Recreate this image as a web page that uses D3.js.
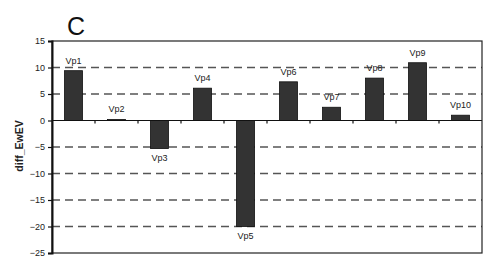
<!DOCTYPE html>
<html>
<head>
<meta charset="utf-8">
<script src="https://cdn.jsdelivr.net/npm/d3@7"></script>
<style>
  body { margin: 0; background: #fff; }
  svg { display: block; font-family: Arial, "Liberation Sans", sans-serif; }
</style>
</head>
<body>
<svg id="chart"></svg>
<script>
// data
const categories = ['Vp1', 'Vp2', 'Vp3', 'Vp4', 'Vp5', 'Vp6', 'Vp7', 'Vp8', 'Vp9', 'Vp10'];
const values = [9.4, 0.2, -5.3, 6.1, -20, 7.3, 2.5, 8.0, 10.9, 1.0];
const yTicks = [15, 10, 5, 0, -5, -10, -15, -20, -25];
const gridValues = [10, 5, -5, -10, -15, -20];

const W = 500, H = 272;
const m = { left: 52, right: 18, top: 41, bottom: 19 };

const svg = d3.select('#chart').attr('width', W).attr('height', H);

const x = d3.scaleBand()
  .domain(categories)
  .range([m.left, W - m.right])
  .paddingInner(0.58)
  .paddingOuter(0.29);

const y = d3.scaleLinear()
  .domain([-25, 15])
  .range([H - m.bottom, m.top]);

// dashed grid
svg.append('g')
  .selectAll('line')
  .data(gridValues)
  .join('line')
  .attr('x1', m.left).attr('x2', W - m.right)
  .attr('y1', d => y(d)).attr('y2', d => y(d))
  .attr('stroke', '#555')
  .attr('stroke-width', 1.3)
  .attr('stroke-dasharray', '8,5');

// bars
svg.append('g')
  .selectAll('rect')
  .data(values)
  .join('rect')
  .attr('x', (d, i) => x(categories[i]))
  .attr('width', x.bandwidth())
  .attr('y', d => y(Math.max(0, d)))
  .attr('height', d => Math.abs(y(d) - y(0)))
  .attr('fill', '#333')
  .attr('stroke', '#111')
  .attr('stroke-width', 0.8);

// bar labels
svg.append('g')
  .selectAll('text')
  .data(values)
  .join('text')
  .attr('x', (d, i) => x(categories[i]) + x.bandwidth() / 2)
  .attr('y', d => d >= 0 ? y(d) - 7 : y(d) + 12)
  .attr('text-anchor', 'middle')
  .attr('font-size', 9)
  .attr('fill', '#222')
  .text((d, i) => categories[i]);

// zero line + category ticks
svg.append('line')
  .attr('x1', m.left).attr('x2', W - m.right)
  .attr('y1', y(0)).attr('y2', y(0))
  .attr('stroke', '#111').attr('stroke-width', 1.2);

const step = (W - m.right - m.left) / categories.length;
svg.append('g')
  .selectAll('line')
  .data(d3.range(1, categories.length))
  .join('line')
  .attr('x1', d => m.left + d * step).attr('x2', d => m.left + d * step)
  .attr('y1', y(0)).attr('y2', y(0) + 3)
  .attr('stroke', '#111').attr('stroke-width', 1.2);

// frame
svg.append('rect')
  .attr('x', m.left).attr('y', m.top)
  .attr('width', W - m.right - m.left)
  .attr('height', H - m.bottom - m.top)
  .attr('fill', 'none')
  .attr('stroke', '#222')
  .attr('stroke-width', 1.2);

// y axis
const yAxis = svg.append('g')
  .attr('transform', `translate(${m.left},0)`)
  .call(d3.axisLeft(y).tickValues(yTicks).tickSize(4).tickPadding(3));
yAxis.select('.domain').attr('stroke', '#111').attr('stroke-width', 2);
yAxis.selectAll('.tick line').attr('stroke', '#111').attr('stroke-width', 1.2);
yAxis.selectAll('.tick text')
  .attr('font-size', 9)
  .attr('font-family', 'Arial, "Liberation Sans", sans-serif')
  .attr('fill', '#222');

// y label
svg.append('text')
  .attr('transform', `translate(19,146) rotate(-90)`)
  .attr('text-anchor', 'middle')
  .attr('dy', '0.35em')
  .attr('font-size', 10.5)
  .attr('font-weight', 'bold')
  .attr('fill', '#222')
  .text('diff_EwEV');

// panel letter
svg.append('text')
  .attr('x', 67).attr('y', 35)
  .attr('font-size', 25)
  .attr('fill', '#111')
  .text('C');
</script>
</body>
</html>
